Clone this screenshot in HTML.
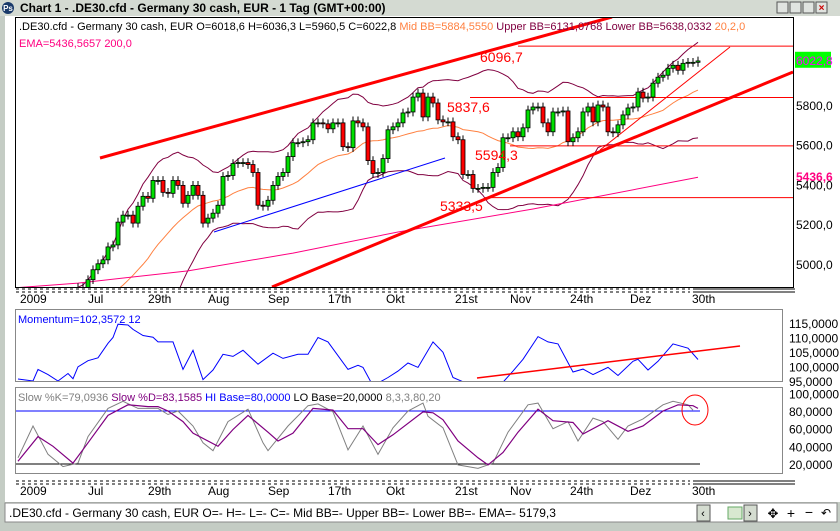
<!DOCTYPE html>
<html><head><meta charset="utf-8">
<style>
body{margin:0;width:840px;height:526px;overflow:hidden;background:#c4ccc4;font-family:"Liberation Sans",sans-serif;}
#win{position:absolute;left:0;top:0;width:840px;height:526px;}
</style></head>
<body>
<div id="win">
<svg id="svg" width="840" height="526" xmlns="http://www.w3.org/2000/svg" font-family="Liberation Sans, sans-serif">
  <rect x="0" y="0" width="840" height="526" fill="#c4ccc4"/>
  <rect x="0" y="0" width="840" height="16" fill="#d4dad2"/>
  <circle cx="8" cy="8" r="6" fill="#1a3a6a"/>
  <text x="8" y="11" font-size="8" fill="#fff" text-anchor="middle" font-weight="bold">Ps</text>
  <text x="20" y="12" font-size="12" font-weight="bold" fill="#000">Chart 1 - .DE30.cfd - Germany 30 cash, EUR - 1 Tag (GMT+00:00)</text>
  <g>
    <rect x="777" y="2" width="11" height="11" fill="#e0e4e0" stroke="#555"/>
    <rect x="790" y="2" width="11" height="11" fill="#e0e4e0" stroke="#555"/>
    <rect x="803" y="2" width="11" height="11" fill="#e0e4e0" stroke="#555"/>
    <rect x="816" y="2" width="11" height="11" fill="#e0e4e0" stroke="#555"/>
    <text x="821.5" y="11" font-size="10" fill="#c00" text-anchor="middle" font-weight="bold">×</text>
  </g>
  <rect x="5" y="16" width="835" height="486" fill="#fff"/>
  <rect x="15.5" y="17.5" width="778" height="270" fill="#fff" stroke="#000"/>
  <rect x="15.5" y="309.5" width="767" height="72" fill="#fff" stroke="#888"/>
  <rect x="15.5" y="387.5" width="767" height="86" fill="#fff" stroke="#888"/>
  <g id="g"></g>
  <rect x="5" y="503" width="832" height="19" fill="#fff" stroke="#888"/>
  <text x="9" y="517" font-size="12" fill="#000">.DE30.cfd - Germany 30 cash, EUR O=- H=- L=- C=-  Mid BB=- Upper BB=- Lower BB=- EMA=-   5179,3</text>
  <g>
    <rect x="697" y="505" width="13" height="16" fill="#d4dcd0" stroke="#555"/><text x="703" y="517" font-size="11" text-anchor="middle">‹</text>
    <rect x="728" y="507" width="14" height="12" fill="#d8e8d0" stroke="#6a6"/>
    <rect x="744" y="505" width="13" height="16" fill="#d4dcd0" stroke="#555"/><text x="750" y="517" font-size="11" text-anchor="middle">›</text>
    <text x="773" y="518" font-size="13" text-anchor="middle">✥</text>
    <text x="791" y="518" font-size="14" text-anchor="middle">+</text>
    <text x="809" y="517" font-size="14" text-anchor="middle">−</text>
    <text x="826" y="517" font-size="12" text-anchor="middle">↶</text>
  </g>
</svg>
</div>
<script>
// ---- data ----
const closes = [4780,4820,4760,4700,4740,4800,4720,4680,4750,4800,4780,4840,4880,4860,
4920,4970,5000,5020,5085,5095,5210,5245,5245,5205,5290,5340,5330,5420,5420,5360,5355,5420,5395,5305,5345,5395,5345,5205,5230,5255,5295,5440,5445,5505,5510,5510,5500,5460,5295,5290,5320,5395,5440,5460,5540,5610,5610,5615,5625,5710,5710,5705,5680,5710,5710,5590,5585,5720,5710,5690,5520,5455,5460,5530,5675,5690,5710,
5760,5765,5840,5860,5740,5840,5810,5725,5715,5715,5640,5625,5450,5450,5380,5380,5385,5385,5460,5485,5635,5635,5665,5640,5685,5775,5790,5790,5710,5665,5765,5765,5770,5615,5635,5665,5765,5790,5715,5800,5790,5665,5660,5700,5750,5785,5790,5865,5835,5840,5910,5940,5950,5985,6000,5975,6010,6015,6015,6022];
const emaIdx = [0,12,34,55,76,103,136];
const emaVal = [4880,4903,4964,5054,5160,5276,5436];
const momIdx = [0,3,4,6,8,10,11,12,14,16,18,19,20,22,23,25,27,28,31,33,35,37,39,41,43,45,48,51,53,56,58,60,62,66,68,69,71,74,76,78,80,83,85,87,90,91,92,94,97,99,101,104,106,108,111,113,115,118,120,123,124,126,128,131,134,136];
const momVal = [95.7,95,99,97.2,95,97.6,95.8,99.9,102,103,108,110,114.6,114.3,112.8,110.7,110.1,108.5,108.5,99,105.6,95.5,98.8,104.2,103.5,105.6,100.8,104.6,102.8,104.2,104.2,110,108.5,99,100.4,99.7,93.3,96.2,98.4,101.2,99.7,108.5,104.9,96.2,94,93.3,91.9,90.9,94.6,98.4,102.5,110.3,108.5,107.8,98.1,99.1,97.2,99.7,96.9,101.8,102.5,98.8,101.8,107.8,106.3,102.4];
const dIdx = [0,4,7,11,14,18,22,26,28,30,33,35,40,43,46,50,52,55,59,63,66,69,72,75,81,83,85,88,92,94,97,100,104,107,111,113,118,122,125,129,132,135,136];
const dVal = [23,51,40,21,44,75,87,85,85,80,68,55,40,59,75,56,46,55,83,81,60,60,42,53,79,78,70,46,27,19,33,56,82,69,67,54,69,57,63,80,87,86,83];
const kIdx = [0,3,6,9,12,14,18,21,24,28,30,32,35,37,39,42,46,49,50,54,58,60,63,66,69,72,75,78,81,82,85,88,92,95,98,102,104,107,110,112,115,117,120,122,125,129,131,134,135];
const kVal = [27,63,31,17,21,51,83,91,83,83,76,80,63,44,35,68,82,44,35,63,86,88,79,36,63,31,61,80,89,74,61,19,15,21,56,87,89,60,68,46,72,68,48,63,71,87,91,87,81];
const priceTicks = [5800,5600,5400,5200,5000];
const momTicks = [115,110,105,100,95];
const stochTicks = [100,80,60,40,20];
const dateLabels = ["2009","Jul","29th","Aug","Sep","17th","Okt","21st","Nov","24th","Dez","30th"];
const dateIdx = [0.4,14,26,38,50,62,73.6,87.4,98.4,110.4,122.4,134.8];
const hLevels = [6096.7,5837.6,5594.3,5333.5];
const hLabels = ["6096,7","5837,6","5594,3","5333,5"];
const hStartIdx = [100,90.4,98.4,93.4];

// ---- scales ----
const X = g => 18 + 5*g;
const Y = p => 105 + (5800-p)*0.1985;
const YM = v => 323 + (115-v)*2.9;
const YS = v => 411 + (80-v)*0.883;
const NS = "http://www.w3.org/2000/svg";
const root = document.getElementById('g');
function mk(tag, attrs, parent){const e=document.createElementNS(NS,tag);for(const k in attrs)e.setAttribute(k,attrs[k]);(parent||root).appendChild(e);return e;}
function txt(x,y,s,size,fill,extra){const e=mk('text',Object.assign({x:x,y:y,'font-size':size,fill:fill},extra||{}));e.textContent=s;return e;}

const defs = mk('defs',{});
const cp = mk('clipPath',{id:'pc'},defs); mk('rect',{x:16,y:18,width:777,height:269},cp);
const cpm = mk('clipPath',{id:'mc'},defs); mk('rect',{x:16,y:310,width:766,height:71},cpm);
const pg = mk('g',{'clip-path':'url(#pc)'});



const mid=[],up=[],lo=[];
for(let i=0;i<closes.length;i++){const s=closes.slice(Math.max(0,i-19),i+1);const m=s.reduce((a,b)=>a+b,0)/s.length;const sd=Math.sqrt(s.reduce((a,b)=>a+(b-m)*(b-m),0)/s.length);mid.push(m);up.push(m+2*sd);lo.push(m-2*sd);}
function poly(vals,idxs,yf,color,w,name,parent){let d='';vals.forEach((v,k)=>{d+=(k?'L':'M')+X(idxs?idxs[k]:k).toFixed(1)+','+yf(v).toFixed(1);});const p=mk('path',{d:d,fill:'none',stroke:color,'stroke-width':w},parent);return p;}
poly(up,null,Y,'#800040',1,'upper-bollinger',pg);
poly(lo,null,Y,'#800040',1,'lower-bollinger',pg);
poly(mid,null,Y,'#ff8040',1,'mid-bollinger',pg);
poly(emaVal,emaIdx,Y,'#ff0080',1,'ema-200',pg);

hLevels.forEach((v,k)=>{const l=mk('line',{x1:X(hStartIdx[k]),x2:793,y1:Y(v),y2:Y(v),stroke:'#ff0000','stroke-width':1},pg);});
const tl=[[100,158,612,17,3,'#ff0000'],[272,287,793,72,3,'#ff0000'],[214,232,445,158,1,'#0000ff'],[600,150,730,47,1,'#ff0000']];
tl.forEach(t=>{const l=mk('line',{x1:t[0],y1:t[1],x2:t[2],y2:t[3],stroke:t[5],'stroke-width':t[4]},pg);});

for(let i=1;i<closes.length;i++){
  const o=closes[i-1],c=closes[i];const x=X(i);
  const hi=Math.max(o,c)+22,lw=Math.min(o,c)-22;
  const cg=mk('g',{},pg);
  
  
  mk('line',{x1:x,x2:x,y1:Y(hi),y2:Y(lw),stroke:'#000','stroke-width':1},cg);
  const top=Y(Math.max(o,c)),h=Math.max(1,Y(Math.min(o,c))-top);
  mk('rect',{x:x-2,y:top,width:4,height:h,fill:c>=o?'#00e000':'#ff0000',stroke:'#000','stroke-width':0.8},cg);
}
hLabels.forEach((s,k)=>{const t=txt([480,447,475,440][k],[62,112,160,211][k],s,14,'#ff0000');});

const h1=txt(19,30,'',11,'#000');
h1.innerHTML='<tspan>.DE30.cfd - Germany 30 cash, EUR O=6018,6 H=6036,3 L=5960,5 C=6022,8 </tspan><tspan fill="#ff8040"> Mid BB=5884,5550 </tspan><tspan fill="#800040">Upper BB=6131,0768 Lower BB=5638,0332 </tspan><tspan fill="#ff8040"> 20,2,0</tspan>';
const h2=txt(19,47,'EMA=5436,5657  200,0',11,'#ff0080');

priceTicks.forEach(v=>{const t=txt(796,Y(v)+5,v.toFixed(1).replace('.',','),12,'#000');});
const lb=mk('rect',{x:795,y:Y(6022.8)-9,width:36,height:16,fill:'#00ff00'});
const lt=txt(796,Y(6022.8)+4,'6022,8',12,'#ff00ff');
const et=txt(796,Y(5436.6)+4,'5436,6',12,'#ff0080',{'font-weight':'bold'});

[289,481].forEach(y=>{mk('line',{x1:16,x2:690,y1:y,y2:y,stroke:'#000','stroke-dasharray':'3,3'});mk('line',{x1:16,x2:690,y1:y+3,y2:y+3,stroke:'#000','stroke-dasharray':'3,3'});mk('line',{x1:693,x2:795,y1:y,y2:y,stroke:'#000'});mk('line',{x1:693,x2:795,y1:y+3,y2:y+3,stroke:'#000'});
 dateLabels.forEach((s,k)=>{const t=txt(X(dateIdx[k]),y+14,s,12,'#000');});});

const mg=mk('g',{'clip-path':'url(#mc)'});


poly(momVal,momIdx,YM,'#0000ff',1,'momentum-line',mg);
const ml=mk('line',{x1:477,y1:378,x2:740,y2:346,stroke:'#ff0000','stroke-width':1.5});
const mt=txt(18,323,'Momentum=102,3572  12',11,'#0000ff');
momTicks.forEach(v=>{const t=txt(789,YM(v)+5,v.toFixed(4).replace('.',','),12,'#000');});

const l80=mk('line',{x1:16,x2:700,y1:YS(80),y2:YS(80),stroke:'#0000ff'});
const l20=mk('line',{x1:16,x2:700,y1:YS(20),y2:YS(20),stroke:'#000'});
poly(kVal,kIdx,YS,'#808080',1,'stoch-k-line');
poly(dVal,dIdx,YS,'#800080',1.2,'stoch-d-line');
const st=txt(18,401,'',11,'#808080');
st.innerHTML='<tspan>Slow %K=79,0936 </tspan><tspan fill="#800080">Slow %D=83,1585 </tspan><tspan fill="#0000ff">HI Base=80,0000 </tspan><tspan fill="#000">LO Base=20,0000 </tspan><tspan> 8,3,3,80,20</tspan>';
stochTicks.forEach(v=>{const t=txt(789,YS(v)+5,v.toFixed(4).replace('.',','),12,'#000');});
const ci=mk('ellipse',{cx:695,cy:410,rx:13,ry:15,fill:'none',stroke:'#ff0000','stroke-width':1});
</script>
</body></html>
